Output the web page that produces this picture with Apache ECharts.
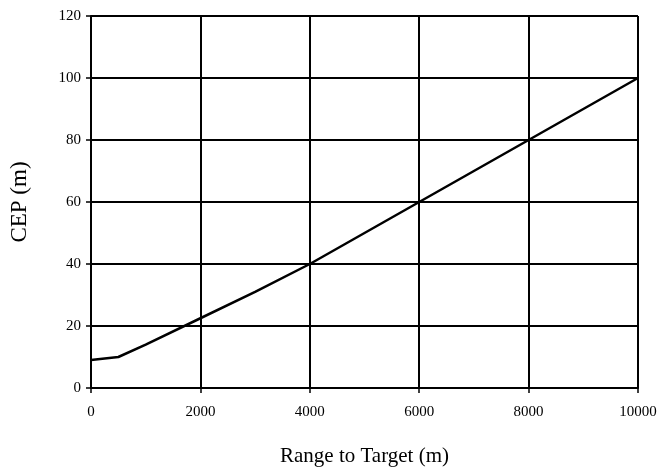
<!DOCTYPE html>
<html>
<head>
<meta charset="utf-8">
<script src="https://cdn.jsdelivr.net/npm/echarts@6/dist/echarts.min.js"></script>
<style>html,body{margin:0;padding:0;background:#fff}#c{width:660px;height:472px}</style>
</head>
<body>
<div id="c"></div>
<script>
var rangeX = [0, 500, 1000, 2000, 3000, 4000, 5000, 6000, 8000, 10000];
var cepY = [9, 10, 14, 22.5, 31, 40, 50, 60, 80, 100];
var xTicks = [0, 2000, 4000, 6000, 8000, 10000];
var yTicks = [0, 20, 40, 60, 80, 100, 120];

var chart = echarts.init(document.getElementById('c'));
var font = '"Liberation Serif", "DejaVu Serif", serif';
chart.setOption({
  animation: false,
  backgroundColor: '#fff',
  grid: {left: 89, right: 22, top: 16, bottom: 82},
  xAxis: {
    type: 'value', min: xTicks[0], max: xTicks[xTicks.length - 1], interval: xTicks[1] - xTicks[0],
    name: 'Range to Target (m)', nameLocation: 'middle', nameGap: 58,
    nameTextStyle: {fontFamily: font, fontSize: 21, color: '#000'},
    axisLine: {show: true, lineStyle: {color: '#000', width: 2}},
    axisTick: {show: true, length: 5, lineStyle: {color: '#000', width: 1.5}},
    axisLabel: {fontFamily: font, fontSize: 15, color: '#000', margin: 17,
      formatter: function (v) { return String(v); }},
    splitLine: {show: true, lineStyle: {color: '#000', width: 2}}
  },
  yAxis: {
    type: 'value', min: yTicks[0], max: yTicks[yTicks.length - 1], interval: yTicks[1] - yTicks[0],
    name: 'CEP (m)', nameLocation: 'middle', nameGap: 60, nameRotate: 90,
    nameTextStyle: {fontFamily: font, fontSize: 23, color: '#000'},
    axisLine: {show: true, lineStyle: {color: '#000', width: 2}},
    axisTick: {show: true, length: 5, lineStyle: {color: '#000', width: 1.5}},
    axisLabel: {fontFamily: font, fontSize: 15, color: '#000', margin: 10},
    splitLine: {show: true, lineStyle: {color: '#000', width: 2}}
  },
  series: [{
    type: 'line',
    data: rangeX.map(function (x, i) { return [x, cepY[i]]; }),
    showSymbol: false,
    lineStyle: {color: '#000', width: 2.5}
  }]
});
</script>
</body>
</html>
